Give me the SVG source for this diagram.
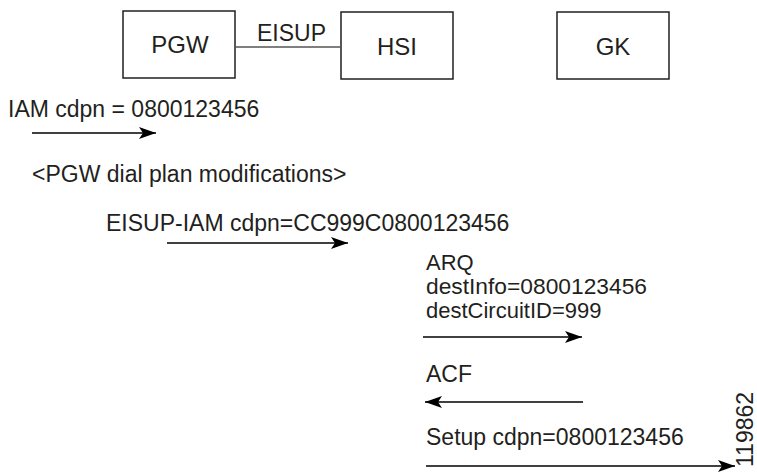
<svg xmlns="http://www.w3.org/2000/svg" width="757" height="472" viewBox="0 0 757 472">
<defs>
<marker id="ah" markerUnits="userSpaceOnUse" markerWidth="20" markerHeight="14" refX="17" refY="7" orient="auto">
<path d="M0,1 L17,7 L0,13 L4,7 Z" fill="#000"/>
</marker>
<style>
text{font-family:"Liberation Sans",Arial,Helvetica,sans-serif;fill:#231f20;font-size:23px}
.box{fill:#fff;stroke:#231f20;stroke-width:1.5}
.lbl{text-anchor:middle;font-size:24px}
.arr{stroke:#000;stroke-width:1.6;fill:none;marker-end:url(#ah)}
.link{stroke:#555;stroke-width:1.3;fill:none}
.sm{font-size:22px}
</style>
</defs>
<rect width="757" height="472" fill="#fff"/>
<g id="PGW"><rect class="box" x="123" y="11" width="112" height="67"/><text class="lbl" x="180" y="53">PGW</text></g>
<g id="HSI"><rect class="box" x="341" y="12" width="112" height="67"/><text class="lbl" x="397" y="55">HSI</text></g>
<g id="GK"><rect class="box" x="557" y="12" width="112" height="67"/><text class="lbl" x="613" y="55">GK</text></g>
<g id="connectors">
<line class="link" x1="235" y1="47" x2="341" y2="47"/>
<line class="arr" x1="32" y1="133" x2="156" y2="133"/>
<line class="arr" x1="167" y1="243" x2="348" y2="243"/>
<line class="arr" x1="423" y1="337" x2="582" y2="337"/>
<line class="arr" x1="583" y1="402" x2="425" y2="402"/>
<line class="arr" x1="426" y1="466" x2="735" y2="466"/>
</g>
<g id="labels">
<text x="257" y="41">EISUP</text>
<text x="8" y="117">IAM cdpn = 0800123456</text>
<text x="32" y="182">&lt;PGW dial plan modifications&gt;</text>
<text x="106" y="231">EISUP-IAM cdpn=CC999C0800123456</text>
<text class="sm" x="426" y="270">ARQ</text>
<text class="sm" x="426" y="294" textLength="221" lengthAdjust="spacingAndGlyphs">destInfo=0800123456</text>
<text class="sm" x="426" y="318">destCircuitID=999</text>
<text x="426" y="382">ACF</text>
<text x="426" y="445">Setup cdpn=0800123456</text>
<text x="0" y="0" font-size="14" transform="translate(753,467) rotate(-90)">119862</text>
</g>
</svg>
